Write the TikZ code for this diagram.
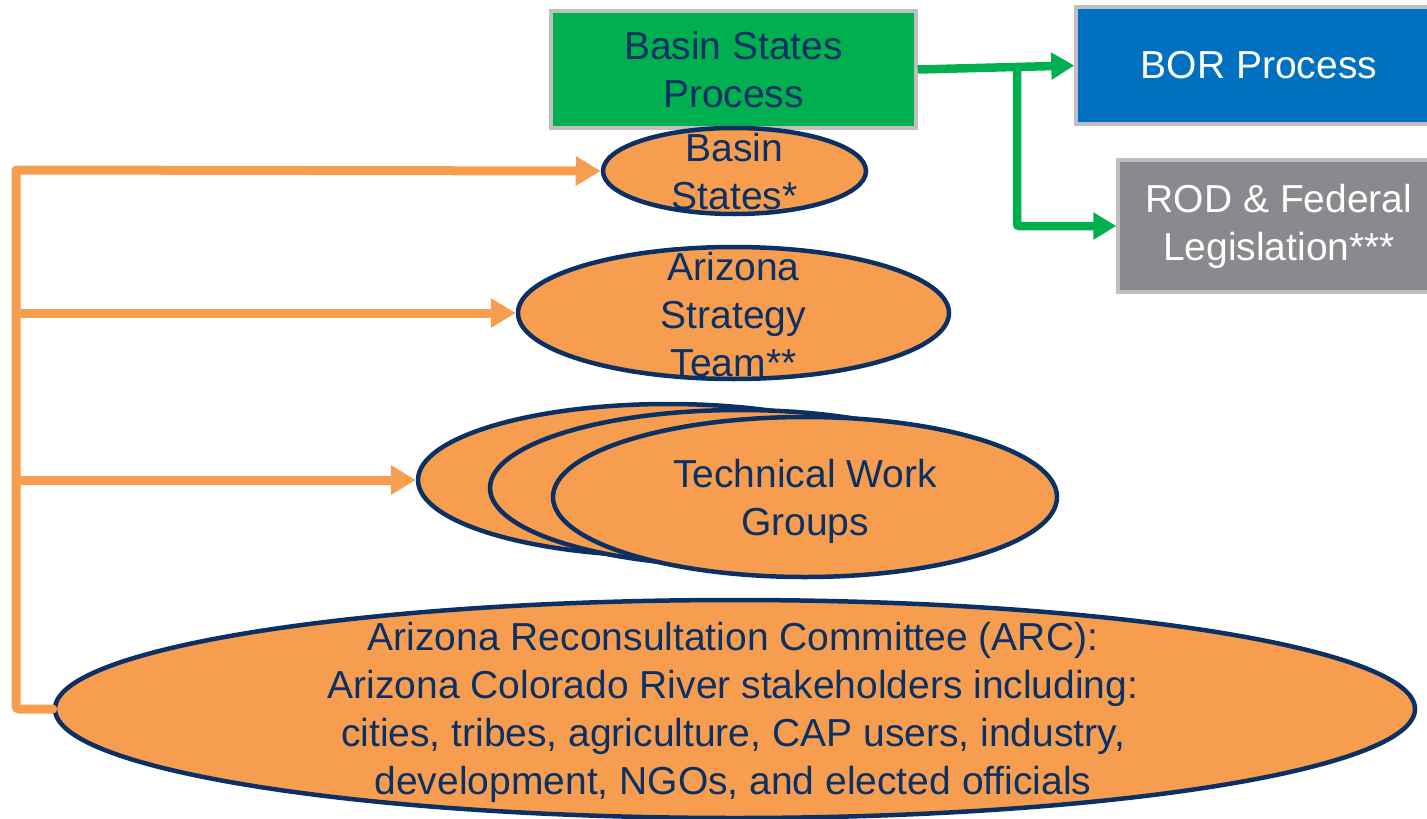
\documentclass[tikz,border=0pt]{standalone}
\usepackage{fontspec}
\setmainfont{Liberation Sans}
\usetikzlibrary{arrows.meta,shapes.geometric}
\definecolor{navy}{RGB}{10,48,100}
\definecolor{gfill}{RGB}{0,176,80}
\definecolor{bfill}{RGB}{0,112,192}
\definecolor{grfill}{RGB}{138,137,141}
\definecolor{bord}{RGB}{191,191,191}
\definecolor{ofill}{RGB}{247,157,80}
\tikzset{
  txt/.style={font=\fontsize{39}{48}\selectfont, align=center, inner sep=0pt},
  boxnode/.style={rectangle, draw=bord, line width=3.5pt, inner sep=0pt},
  ell/.style={ellipse, draw=navy, fill=ofill, line width=4.5pt, inner sep=0pt},
  garrow/.style={draw=gfill, line width=8.5pt, rounded corners=2pt, -{Triangle[length=23pt,width=26pt]}},
  oarrow/.style={draw=ofill, line width=9pt, -{Triangle[length=25pt,width=28pt]}},
  oline/.style={draw=ofill, line width=9pt, rounded corners=3pt, line cap=round},
}
\begin{document}
\begin{tikzpicture}[x=1pt,y=-1pt]
\useasboundingbox (0,0) rectangle (1427,819);
% boxes
\node[boxnode, fill=gfill, minimum width=365pt, minimum height=117pt, txt, text=navy] (bsp) at (733.5,69.5) {Basin States\\Process};
\node[boxnode, fill=bfill, minimum width=366pt, minimum height=117pt, txt, text=white] (bor) at (1259,65.5) {BOR Process};
\node[boxnode, fill=grfill, minimum width=322pt, minimum height=132pt, txt, text=white] (rod) at (1279,226) {ROD \& Federal\\Legislation***};
% green connectors
\coordinate (gbranch) at (1017,69);
\draw[garrow] (bsp.east) -- (bor.west);
\draw[garrow] (gbranch) |- (rod.west);
% ellipses
\node[ell, minimum width=263pt, minimum height=86pt] (bs) at (734.5,171) {};
\node[txt, text=navy] (bstxt) at (734.5,172) {Basin\\States*};
\node[ell, minimum width=431pt, minimum height=132pt] (st) at (733.5,313) {};
\node[txt, text=navy] (sttxt) at (733.5,315) {Arizona\\Strategy\\Team**};
\node[ell, minimum width=500pt, minimum height=152pt] (tw1) at (668,480) {};
\node[ell, minimum width=500pt, minimum height=156pt] (tw2) at (740,488) {};
\node[ell, minimum width=504pt, minimum height=160pt] (tw3) at (805,497) {};
\node[txt, text=navy] (twtxt) at (805,501) {Technical Work\\Groups};
\node[ell, minimum width=1360pt, minimum height=218pt] (arc) at (735,709) {};
\node[txt, text=navy] (arctxt) at (733,712) {Arizona Reconsultation Committee (ARC):\\Arizona Colorado River stakeholders including:\\cities, tribes, agriculture, CAP users, industry,\\development, NGOs, and elected officials};
% orange connectors
\coordinate (spine) at (16,170);
\draw[oline] (spine) |- (arc.west);
\draw[oarrow] (spine) -- (bs.west);
\draw[oarrow] (spine |- st.west) -- (st.west);
\draw[oarrow] (spine |- tw1.west) -- (tw1.west);
\end{tikzpicture}
\end{document}
